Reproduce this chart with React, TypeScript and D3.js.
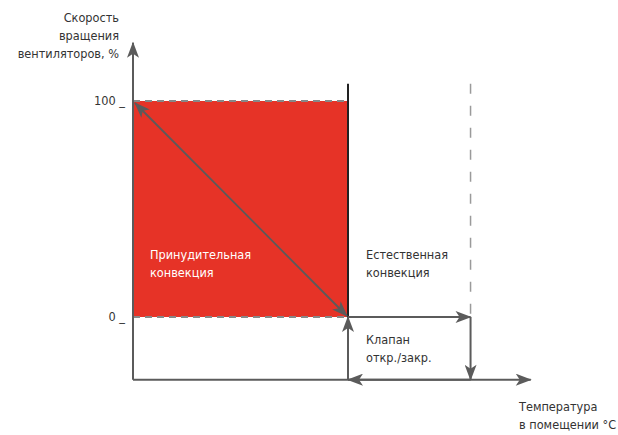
import * as d3 from "d3";

// y: fan speed %, x: room temperature (relative units)
const yTicks = [0, 100];
const yTickLabels = ["0", "100"];
const forcedZone = [0, 100]; // x range of forced convection
const naturalEdge = 157; // x where natural convection ends (dashed)
const axisEnds = { xMin: 0, xMax: 185, yMin: -29, yMax: 127 };

const titleY = ["Скорость", "вращения", "вентиляторов, %"];
const titleX = ["Температура", "в помещении °C"];
const forcedLabel = ["Принудительная", "конвекция"];
const naturalLabel = ["Естественная", "конвекция"];
const valveLabel = ["Клапан", "откр./закр."];

const W = 618;
const H = 435;
const font = "'DejaVu Sans Condensed', 'Liberation Sans Narrow', sans-serif";
const fs = 12.6;
const grey = "#5b5b5b";
const red = "#e63327";

export default function App() {
  const x = d3.scaleLinear().domain([0, 100]).range([133, 348]);
  const y = d3.scaleLinear().domain([0, 100]).range([317, 101]);

  const x0 = x(axisEnds.xMin);
  const y0 = y(axisEnds.yMin);
  const fx0 = x(forcedZone[0]);
  const fx1 = x(forcedZone[1]);
  const nx = x(naturalEdge);

  const lines = (arr: string[], px: number, py: number, fill: string, anchor = "start") => (
    <text x={px} y={py} fill={fill} fontSize={fs} fontFamily={font} textAnchor={anchor}>
      {arr.map((t, i) => (
        <tspan key={i} x={px} dy={i === 0 ? 0 : 18}>
          {t}
        </tspan>
      ))}
    </text>
  );

  return (
    <svg width={W} height={H} style={{ position: "absolute", left: 0, top: 0, background: "#fff" }}>
      <defs>
        <marker id="ah" viewBox="0 0 16 12" refX="15" refY="6" markerWidth="17" markerHeight="12" markerUnits="userSpaceOnUse" orient="auto-start-reverse">
          <path d="M0,0 L16,6 L0,12 L4,6 Z" fill={grey} />
        </marker>
      </defs>

      {/* forced convection area */}
      <rect x={fx0} y={y(100)} width={fx1 - fx0} height={y(0) - y(100)} fill={red} />
      <line x1={fx0} x2={fx1} y1={y(100)} y2={y(100)} stroke="#888" strokeWidth={2} strokeDasharray="7,5" />
      <line x1={fx0} x2={fx1} y1={y(0)} y2={y(0)} stroke="#888" strokeWidth={2} strokeDasharray="7,5" />
      <line x1={fx1} x2={fx1} y1={y(108)} y2={y(0)} stroke="#222" strokeWidth={2} />

      {/* diagonal double arrow */}
      <line x1={fx1 - 1} y1={y(0) - 1} x2={fx0 + 2} y2={y(100) + 2} stroke={grey} strokeWidth={1.8}
        markerStart="url(#ah)" markerEnd="url(#ah)" />

      {/* dashed natural convection limit */}
      <line x1={nx} x2={nx} y1={y(108)} y2={y(0)} stroke="#9a9a9a" strokeWidth={1.5} strokeDasharray="10,12" />

      {/* valve cycle arrows */}
      <line x1={fx1} y1={y(0)} x2={nx} y2={y(0)} stroke={grey} strokeWidth={2} markerEnd="url(#ah)" />
      <line x1={nx} y1={y(0)} x2={nx} y2={y0} stroke={grey} strokeWidth={2} markerEnd="url(#ah)" />
      <line x1={nx} y1={y0} x2={fx1} y2={y0} stroke={grey} strokeWidth={2} markerEnd="url(#ah)" />
      <line x1={fx1} y1={y0} x2={fx1} y2={y(0)} stroke={grey} strokeWidth={2} markerEnd="url(#ah)" />

      {/* axes */}
      <line x1={x0} y1={y0} x2={x0} y2={y(axisEnds.yMax)} stroke={grey} strokeWidth={2} markerEnd="url(#ah)" />
      <line x1={x0} y1={y0} x2={x(axisEnds.xMax)} y2={y0} stroke={grey} strokeWidth={2} markerEnd="url(#ah)" />

      {yTicks.map((t, i) => (
        <text key={t} x={125} y={y(t) + 4} fill="#333" fontSize={fs} fontFamily={font} textAnchor="end">
          {yTickLabels[i]} _
        </text>
      ))}

      {lines(titleY, 119, 22, "#333", "end")}
      {lines(titleX, 519, 411, "#333")}
      {lines(forcedLabel, 150, 259, "#fff")}
      {lines(naturalLabel, 366, 259, "#333")}
      {lines(valveLabel, 366, 344, "#333")}
    </svg>
  );
}
